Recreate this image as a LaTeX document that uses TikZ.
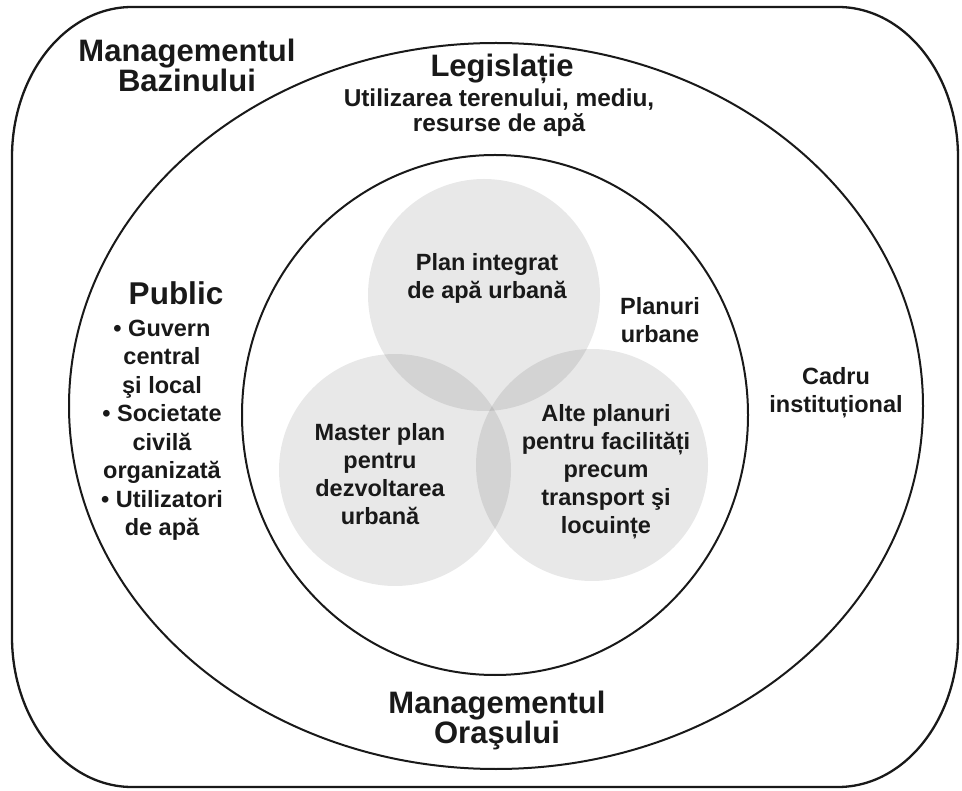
\documentclass[tikz,border=0pt]{standalone}
\usepackage{fontspec}
\setmainfont{Liberation Sans}
\begin{document}
\begin{tikzpicture}[x=1pt,y=-1pt,
  txt/.style={align=center, inner sep=0pt, text=black!90},
  title/.style={txt, font=\bfseries\fontsize{31}{28}\selectfont},
  body/.style={txt, font=\bfseries\fontsize{23.5}{28}\selectfont},
  ring/.style={draw=black!90, line width=2pt},
  disc/.style={fill=black, fill opacity=0.09}]
\useasboundingbox (0,0) rectangle (962,791);
% outer rounded frame
\draw[ring, line width=2.3pt] (12,157) arc (180:270:120 and 150) -- (838,7)
  arc (270:360:120 and 150) -- (958,637)
  arc (0:90:120 and 150) -- (132,787)
  arc (90:180:120 and 150) -- cycle;
% middle ellipse and inner circle
\draw[ring] (496,406) ellipse [x radius=427, y radius=363];
\draw[ring] (495,415) ellipse [x radius=253, y radius=260];
% three overlapping discs
\fill[disc] (484,295) circle [radius=116];
\fill[disc] (395,470) circle [radius=116];
\fill[disc] (592,465) circle [radius=116];
% texts
\node[title] (bazin) at (187,65) {Managementul\\Bazinului};
\node[txt, font=\bfseries\fontsize{31}{31}\selectfont] (legis) at (502,69) {Legislație};
\node[txt, font=\bfseries\fontsize{24.4}{25}\selectfont] (legsub) at (499,113) {Utilizarea terenului, mediu,\\resurse de apă};
\node[txt, font=\bfseries\fontsize{31.5}{31.5}\selectfont] (public) at (176,293) {Public};
\node[txt, font=\bfseries\fontsize{23.5}{28.5}\selectfont] (publist) at (162,430)
  {• Guvern\\central\\şi local\\• Societate\\civilă\\organizată\\• Utilizatori\\de apă};
\node[body] (integrat) at (487,278) {Plan integrat\\de apă urbană};
\node[body] (planuri) at (660,320.5) {Planuri\\urbane};
\node[body] (master) at (380,474.5) {Master plan\\pentru\\dezvoltarea\\urbană};
\node[body] (alte) at (606,472) {Alte planuri\\pentru facilități\\precum\\transport şi\\locuințe};
\node[body] (cadru) at (836,393) {Cadru\\instituțional};
\node[title] (oras) at (497,720) {Managementul\\Oraşului};
\end{tikzpicture}
\end{document}
